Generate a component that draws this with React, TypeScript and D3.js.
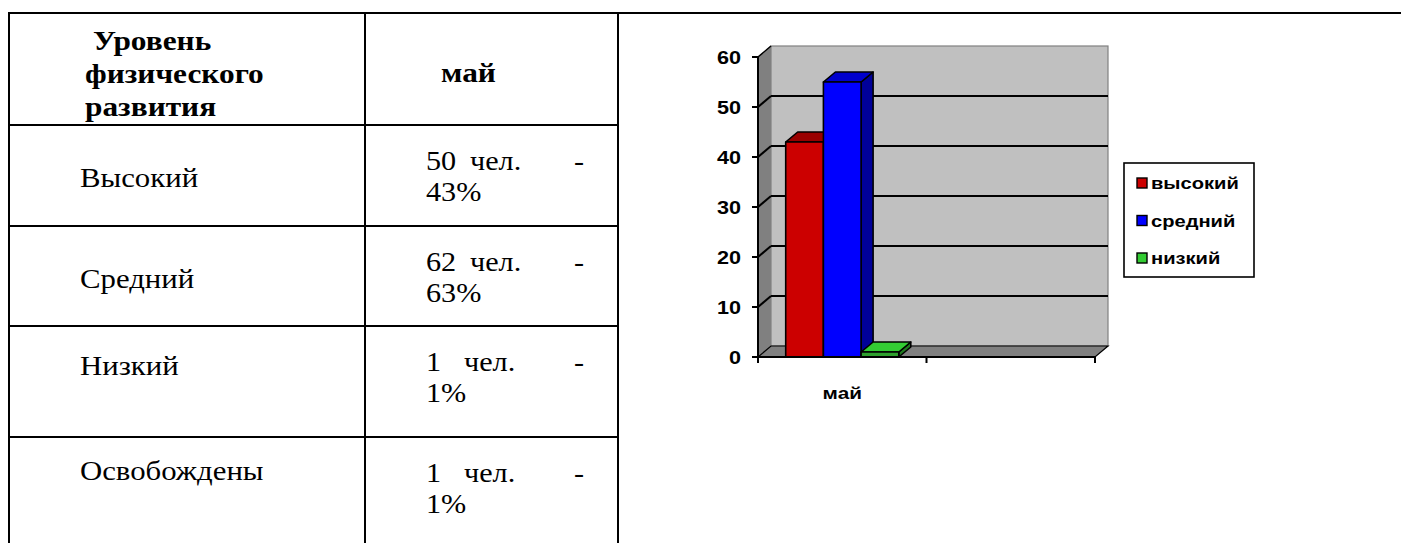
import React from "react";
import * as d3 from "d3";

// ---------- data ----------
const headerLeft = ["Уровень", "физического", "развития"];
const headerRight = "май";
const levels = ["Высокий", "Средний", "Низкий", "Освобождены"];
const counts = [50, 62, 1, 1];
const percents = [43, 63, 1, 1];

const categories = ["май", ""];
const seriesNames = ["высокий", "средний", "низкий"];
const seriesValues = [43, 55, 1];
const yTicks = [0, 10, 20, 30, 40, 50, 60];

// ---------- styles ----------
const frontColors = ["#CC0000", "#0000FF", "#2EA02E"];
const topColors = ["#990000", "#0000CC", "#33CC33"];
const sideColors = ["#880000", "#000099", "#1F7A1F"];
const legendColors = ["#CC0000", "#0000FF", "#33CC33"];

const SERIF = "'Liberation Serif', 'Times New Roman', serif";
const SANS = "'Liberation Sans', Arial, sans-serif";

function T(props: {
  x: number; y: number; sx?: number; size: number; bold?: boolean;
  family?: string; anchor?: string; children: React.ReactNode;
}) {
  const { x, y, sx = 1, size, bold, family = SERIF, anchor = "start", children } = props;
  return (
    <text
      transform={`translate(${x},${y}) scale(${sx},1)`}
      fontFamily={family}
      fontSize={size}
      fontWeight={bold ? "bold" : "normal"}
      textAnchor={anchor as any}
      fill="#000"
    >
      {children}
    </text>
  );
}

export default function App() {
  const W = 1401, H = 543;

  // ---- table geometry ----
  const tLeft = 9, tMid = 365, tRight = 618, tTop = 13;
  const rowLines = [125, 226, 326, 437];
  const rowTops = [125, 226, 326, 437];

  // ---- chart geometry ----
  const y = d3.scaleLinear().domain([0, 60]).range([357, 57]);
  const x = d3.scaleBand<string>().domain(categories).range([758, 1095]).padding(0);
  const inner = d3.scaleBand<string>().domain(seriesNames).range([0, x.bandwidth()])
    .paddingInner(0).paddingOuter(0.735);
  const dx = 13, dy = -11;      // wall depth
  const bdx = 12, bdy = -10;    // bar depth
  const x0 = x.range()[0], x1 = x.range()[1];
  const yTop = y(60), yBot = y(0);

  const poly = (pts: [number, number][]) => pts.map(p => p.join(",")).join(" ");

  const chartFs = 16.5, chartSx = 1.22;

  return (
    <svg width={W} height={H} style={{ position: "absolute", left: 0, top: 0, background: "#fff" }}>
      <rect x={0} y={0} width={W} height={H} fill="#fff" />
      {/* ---------- table ---------- */}
      <g stroke="#000" strokeWidth={2}>
        <line x1={tLeft - 1} y1={tTop} x2={W} y2={tTop} />
        <line x1={tLeft} y1={tTop} x2={tLeft} y2={H} />
        <line x1={tMid} y1={tTop} x2={tMid} y2={H} />
        <line x1={tRight} y1={tTop} x2={tRight} y2={H} />
        {rowLines.map((ly, i) => (
          <line key={i} x1={tLeft} y1={ly} x2={tRight} y2={ly} />
        ))}
      </g>
      {headerLeft.map((s, i) => (
        <T key={i} x={i === 0 ? 93 : 85} y={50 + i * 33} size={28} bold sx={1.12}>{s}</T>
      ))}
      <T x={441} y={82} size={28} bold sx={1.12}>{headerRight}</T>
      {levels.map((s, i) => {
        const top = rowTops[i];
        const centers = [187, 288, 375, 480];
        return (
          <g key={i}>
            <T x={80} y={centers[i]} size={27} sx={1.14}>{s}</T>
            <T x={426} y={top + 45} size={27} sx={1.12}>{String(counts[i])}</T>
            <T x={counts[i] >= 10 ? 470 : 464} y={top + 45} size={27} sx={1.12}>чел.</T>
            <T x={584} y={top + 45} size={27} sx={1.12} anchor="end">-</T>
            <T x={426} y={top + 76} size={27} sx={1.12}>{`${percents[i]}%`}</T>
          </g>
        );
      })}

      {/* ---------- chart ---------- */}
      {/* side wall */}
      <polygon points={poly([[x0, yBot], [x0, yTop], [x0 + dx, yTop + dy], [x0 + dx, yBot + dy]])}
        fill="#808080" stroke="#808080" strokeWidth={1} />
      {/* back wall */}
      <rect x={x0 + dx} y={yTop + dy} width={x1 - x0} height={yBot - yTop}
        fill="#C0C0C0" stroke="#808080" strokeWidth={1.2} />
      {/* floor */}
      <polygon points={poly([[x0, yBot], [x1, yBot], [x1 + dx, yBot + dy], [x0 + dx, yBot + dy]])}
        fill="#808080" stroke="#000" strokeWidth={1.2} />
      {/* gridlines */}
      {yTicks.filter(t => t > 0 && t < 60).map(t => (
        <g key={t} stroke="#000" strokeWidth={2}>
          <line x1={x0} y1={y(t)} x2={x0 + dx} y2={y(t) + dy} />
          <line x1={x0 + dx} y1={y(t) + dy} x2={x1 + dx} y2={y(t) + dy} />
        </g>
      ))}
      <line x1={x0} y1={yTop} x2={x0 + dx} y2={yTop + dy} stroke="#000" strokeWidth={1.5} />
      {/* bars */}
      {categories.map(c => (
        <g key={c || "blank"}>
          {c !== "" && seriesNames.map((s, i) => {
            const bx = (x(c) as number) + (inner(s) as number);
            const bw = inner.bandwidth();
            const by = y(seriesValues[i]);
            return (
              <g key={s} stroke="#000" strokeWidth={1.6} strokeLinejoin="round">
                <polygon points={poly([[bx + bw, by], [bx + bw + bdx, by + bdy], [bx + bw + bdx, yBot + bdy], [bx + bw, yBot]])}
                  fill={sideColors[i]} />
                <polygon points={poly([[bx, by], [bx + bdx, by + bdy], [bx + bw + bdx, by + bdy], [bx + bw, by]])}
                  fill={topColors[i]} />
                <rect x={bx} y={by} width={bw} height={yBot - by} fill={frontColors[i]} />
              </g>
            );
          })}
        </g>
      ))}
      {/* axes */}
      <g stroke="#000" strokeWidth={2}>
        <line x1={x0} y1={yTop} x2={x0} y2={yBot} />
        {yTicks.map(t => <line key={t} x1={x0 - 6} y1={y(t)} x2={x0} y2={y(t)} />)}
        <line x1={x0} y1={yBot} x2={x1} y2={yBot} />
        {[...categories.map(c => x(c) as number), x1].map((tx, i) => (
          <line key={i} x1={tx} y1={yBot} x2={tx} y2={yBot + 6} />
        ))}
      </g>
      {yTicks.map(t => (
        <T key={t} x={741} y={y(t) + 6.5} size={18} bold family={SANS} sx={1.2} anchor="end">{String(t)}</T>
      ))}
      {categories.map(c => (
        <T key={c || "blank2"} x={(x(c) as number) + x.bandwidth() / 2} y={399} size={17} bold family={SANS} sx={chartSx} anchor="middle">{c}</T>
      ))}
      {/* legend */}
      <rect x={1124} y={163} width={130} height={114} fill="#fff" stroke="#000" strokeWidth={1.6} />
      {seriesNames.map((s, i) => {
        const cy = 183 + i * 37.5;
        return (
          <g key={s}>
            <rect x={1137} y={cy - 5} width={10} height={10} fill={legendColors[i]} stroke="#000" strokeWidth={1.4} />
            <T x={1151} y={cy + 6} size={chartFs} bold family={SANS} sx={chartSx}>{s}</T>
          </g>
        );
      })}
    </svg>
  );
}
